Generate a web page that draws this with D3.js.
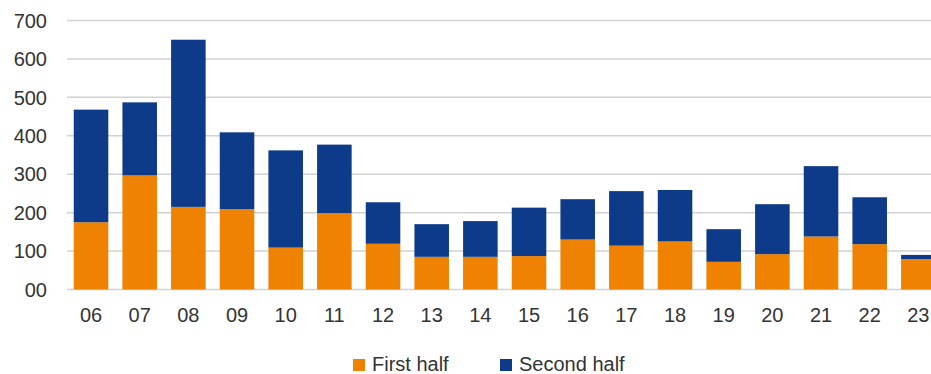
<!DOCTYPE html>
<html>
<head>
<meta charset="utf-8">
<script src="https://cdnjs.cloudflare.com/ajax/libs/d3/7.8.5/d3.min.js"></script>
<style>
  body { margin: 0; background: #fff; }
  svg { display: block; font-family: "Liberation Sans", Arial, sans-serif; }
</style>
</head>
<body>
<div id="chart"></div>
<script>
var years = ['06','07','08','09','10','11','12','13','14','15','16','17','18','19','20','21','22','23'];
var firstHalf = [175, 297, 215, 209, 109, 199, 119, 85, 85, 87, 130, 114, 125, 72, 92, 138, 118, 79];
var secondHalf = [293, 190, 435, 200, 253, 178, 108, 85, 93, 126, 105, 142, 134, 85, 130, 183, 122, 11];
var yTicks = [0, 100, 200, 300, 400, 500, 600, 700];
var keys = ['first', 'second'];
var labels = {first: 'First half', second: 'Second half'};
var colors = {first: '#EF8200', second: '#0E3B89'};

var width = 931, height = 374;

var data = years.map(function(y, i) {
  return {year: y, first: firstHalf[i], second: secondHalf[i]};
});

var svg = d3.select('#chart').append('svg')
  .attr('width', width)
  .attr('height', height);

var x = d3.scaleBand()
  .domain(years)
  .range([66.7, 942.7])
  .paddingInner(0.29)
  .paddingOuter(0.145);

var y = d3.scaleLinear()
  .domain([0, 700])
  .range([289.5, 20.5]);

// gridlines
svg.append('g')
  .selectAll('line')
  .data(yTicks)
  .enter().append('line')
    .attr('x1', 67)
    .attr('x2', width)
    .attr('y1', function(d) { return y(d); })
    .attr('y2', function(d) { return y(d); })
    .attr('stroke', '#d2d2d2')
    .attr('stroke-width', 1.5);

// y labels
svg.append('g')
  .selectAll('text')
  .data(yTicks)
  .enter().append('text')
    .attr('x', 47)
    .attr('y', function(d) { return y(d); })
    .attr('dy', '0.36em')
    .attr('text-anchor', 'end')
    .attr('font-size', 20)
    .attr('fill', '#333')
    .text(function(d) { return d === 0 ? '00' : d; });

var series = d3.stack().keys(keys)(data);

svg.append('g')
  .selectAll('g')
  .data(series)
  .enter().append('g')
    .attr('fill', function(d) { return colors[d.key]; })
  .selectAll('rect')
  .data(function(d) { return d; })
  .enter().append('rect')
    .attr('x', function(d) { return x(d.data.year); })
    .attr('width', x.bandwidth())
    .attr('y', function(d) { return y(d[1]); })
    .attr('height', function(d) { return y(d[0]) - y(d[1]); });

// x labels
svg.append('g')
  .selectAll('text')
  .data(years)
  .enter().append('text')
    .attr('x', function(d) { return x(d) + x.bandwidth() / 2; })
    .attr('y', 322)
    .attr('text-anchor', 'middle')
    .attr('font-size', 20)
    .attr('fill', '#333')
    .text(function(d) { return d; });

// legend
var legendPos = [353, 500];
var legend = svg.append('g')
  .selectAll('g')
  .data(keys)
  .enter().append('g')
    .attr('transform', function(d, i) { return 'translate(' + legendPos[i] + ',359)'; });

legend.append('rect')
  .attr('width', 12)
  .attr('height', 12)
  .attr('fill', function(d) { return colors[d]; });

legend.append('text')
  .attr('x', 19)
  .attr('y', 5)
  .attr('dy', '0.36em')
  .attr('font-size', 20)
  .attr('fill', '#333')
  .text(function(d) { return labels[d]; });
</script>
</body>
</html>
